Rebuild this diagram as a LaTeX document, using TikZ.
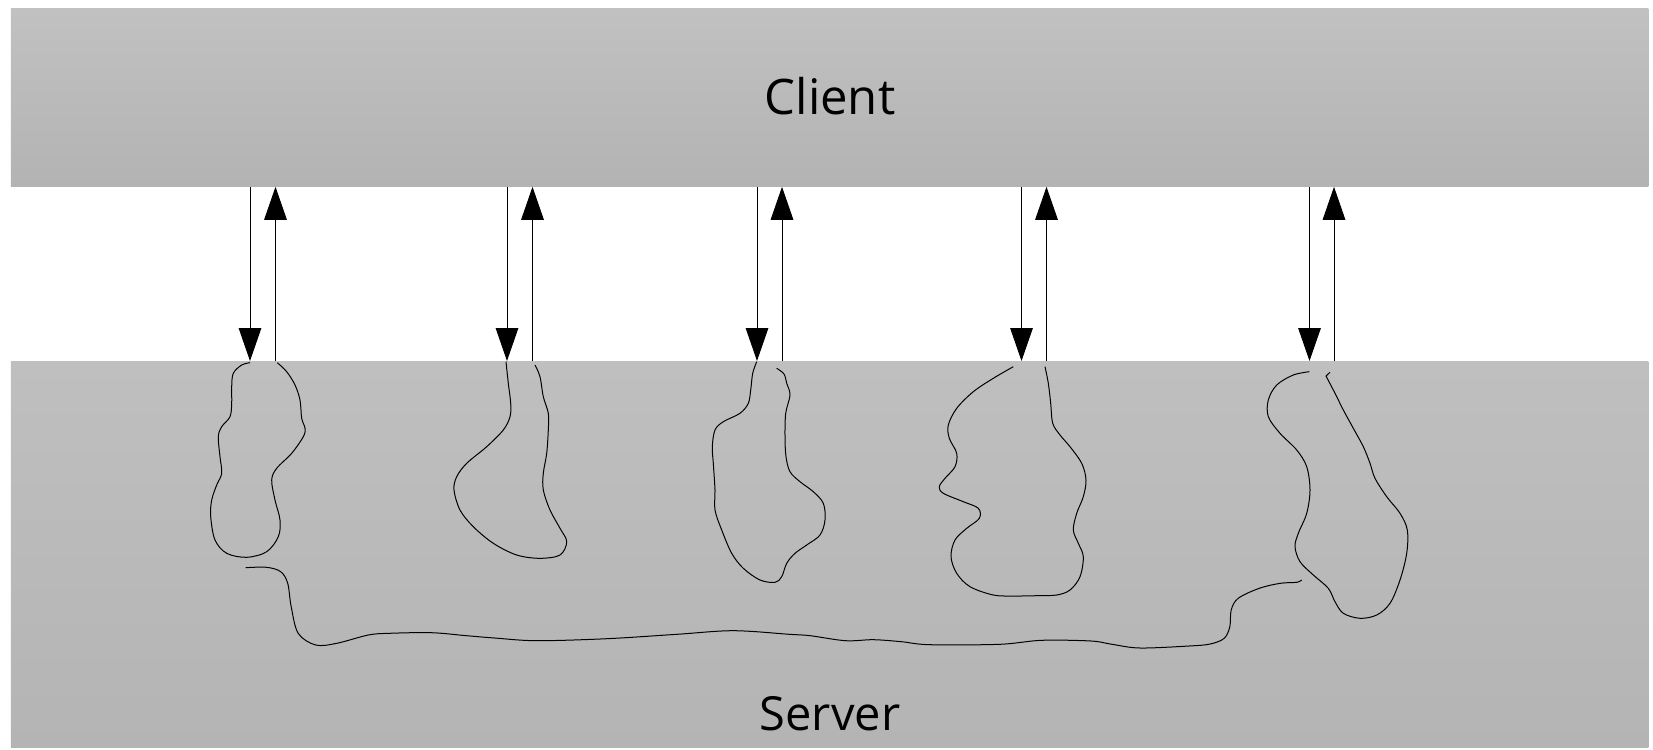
\documentclass[tikz,border=0pt]{standalone}
\usepackage{fontspec}
\setmainfont{Open Sans}
\usetikzlibrary{arrows.meta}
\definecolor{ctop}{RGB}{193,193,193}
\definecolor{cbot}{RGB}{179,179,179}
\definecolor{stop}{RGB}{191,191,191}
\definecolor{sbot}{RGB}{180,180,180}
\begin{document}
\begin{tikzpicture}[x=0.5pt,y=-0.5pt,
  bar/.style={rectangle, draw=none, inner sep=0pt, anchor=north west,
              minimum width=818.75pt},
  barlabel/.style={anchor=base, inner sep=0pt, font=\fontsize{24.5}{29}\selectfont},
  flow/.style={line width=0.5pt, draw=black,
               -{Triangle[width=11.3pt,length=16.5pt]}},
  blob/.style={line width=0.5pt, draw=black}]
\useasboundingbox (0,0) rectangle (1653,749);

\node[bar, top color=ctop, bottom color=cbot, minimum height=88.75pt] (client) at (10.5,8.5) {};
\node[bar, top color=stop, bottom color=sbot, minimum height=193pt] (server) at (10.5,361) {};
\node[barlabel] (clientlabel) at (830,114) {Client};
\node[barlabel, font=\fontsize{23.5}{28}\selectfont] (serverlabel) at (830,730) {Server};

% arrow columns
\foreach \n/\d/\u in {1/250/275.5, 2/507/532.5, 3/757/782, 4/1021.5/1046.5, 5/1309.5/1334}{
  \coordinate (d\n) at (\d,0);
  \coordinate (u\n) at (\u,0);
  \draw[flow] (d\n |- client.south) -- (d\n |- server.north);
  \draw[flow] (u\n |- server.north) -- (u\n |- client.south);
}

% blob 1
\draw[blob] plot[smooth, tension=0.55] coordinates {
 (250,362.7) (241.7,365) (233.3,373.3) (231.7,386.7) (231.7,403.3) (230,416.7)
 (221.7,426.7) (218.3,436.7) (220,456.7) (221.7,473.3) (216.7,485) (211.7,500)
 (210.7,516.7) (215,540) (226.7,553.3) (246.7,557.3) (266.7,551.7) (278.3,536.7)
 (280,520) (275,500) (271.7,480) (276.7,468.3) (291.7,453.3) (303.3,436.7)
 (305,428.3) (301.7,418.3) (300,400) (295,385) (286.7,371.7) (277.3,362.7)};

% blob 2
\draw[blob] plot[smooth, tension=0.55] coordinates {
 (506,361.7) (508.3,383.3) (510.7,403.3) (510,416.7) (503.3,430) (486.7,446.7)
 (466.7,463.3) (456.7,476.7) (454,490) (460,510) (473.3,526.7) (493.3,543.3)
 (516.7,555) (540,558.3) (560,555) (566.7,541.7) (560,528.3) (550,510)
 (543.3,490) (543.3,473.3) (546.7,453.3) (548.3,430) (548.3,413.3) (543.3,396.7)
 (540,376.7) (535,365)};

% blob 3
\draw[blob] plot[smooth, tension=0.55] coordinates {
 (756.7,361.7) (752.7,373.3) (750.7,390) (748.3,403.3) (740,413.3) (723.3,421.7)
 (715,430) (712.3,446.7) (713.3,463.3) (715,490) (715,510) (721.7,530)
 (731.7,553.3) (743.3,568.3) (760,580) (775,582.3) (781.7,576.7) (786.7,563.3)
 (795,553.3) (806.7,545) (820,535) (825,520) (823.3,503.3) (813.3,491.7)
 (800,481.7) (790,471.7) (786,456.7) (785,436.7) (785.7,413.3) (790,395)
 (786.7,383.3) (784,374) (776.7,368.3)};

% blob 4
\draw[blob] plot[smooth, tension=0.55] coordinates {
 (1013.3,366.7) (993.3,378.3) (973.3,391.7) (956.7,408.3) (948.3,425) (949.3,438.3)
 (956.7,453.3) (955,466.7) (945,478.3) (939.3,486.7) (943.3,493.3) (963.3,501.7)
 (978.3,508.3) (979.3,518.3) (966.7,528.3) (955,540) (951,556.7) (956.7,573.3)
 (970,586.7) (993.3,595) (1013.3,596) (1036.7,595.7) (1056.7,595) (1070,590)
 (1080,576.7) (1083.3,556.7) (1078.3,543.3) (1073.3,530) (1076.7,513.3) (1083.3,496.7)
 (1086,480) (1081.7,463.3) (1070,446.7) (1060,435) (1052.7,423.3) (1050.7,403.3)
 (1048.3,383.3) (1045,366.7)};

% blob 5
\draw[blob] plot[smooth, tension=0.55] coordinates {
 (1309.3,371.7) (1293.3,375) (1276.7,385) (1268.3,400) (1268.3,416.7) (1280,433.3)
 (1296.7,450) (1306.7,466.7) (1310,490) (1306.7,513.3) (1298.3,533.3) (1295,546.7)
 (1300,561.7) (1313.3,575) (1328.3,588.3) (1335,601.7) (1343.3,613.3) (1360,618.3)
 (1376.7,615) (1390,603.3) (1400,580) (1406.7,553.3) (1407.3,530) (1400,513.3)
 (1386.7,496.7) (1375,478.3) (1370,463.3) (1363.3,446.7) (1353.3,428.3) (1343.3,410)
 (1335,393.3) (1326,376)} -- (1330,372.3);

% long bottom curve
\draw[blob] plot[smooth, tension=0.55] coordinates {
 (245.6,567.7) (266.6,567.3) (280.7,571.7) (287.7,583.3) (291.2,606.7) (298.2,633.3)
 (315.7,645) (336.8,643.3) (368.4,635) (389.4,633.3) (431.5,632.7) (466.6,635.7)
 (494.6,638) (536.7,640.7) (606.9,638.7) (677,634.3) (733.1,630.7) (789.3,634.3)
 (810.3,635.7) (845.4,640.7) (873.4,639.7) (901.5,641.7) (929.6,644.7) (999.7,644.3)
 (1041.8,640.3) (1090.9,641) (1112,644.3) (1140,648) (1189.1,646) (1210.2,644)
 (1224.2,638.3) (1229.8,626.7) (1231.2,610) (1238.2,598.3) (1259.3,588.3) (1280.3,583.3)
 (1296.7,582.3) (1301.7,580)};
\end{tikzpicture}
\end{document}
